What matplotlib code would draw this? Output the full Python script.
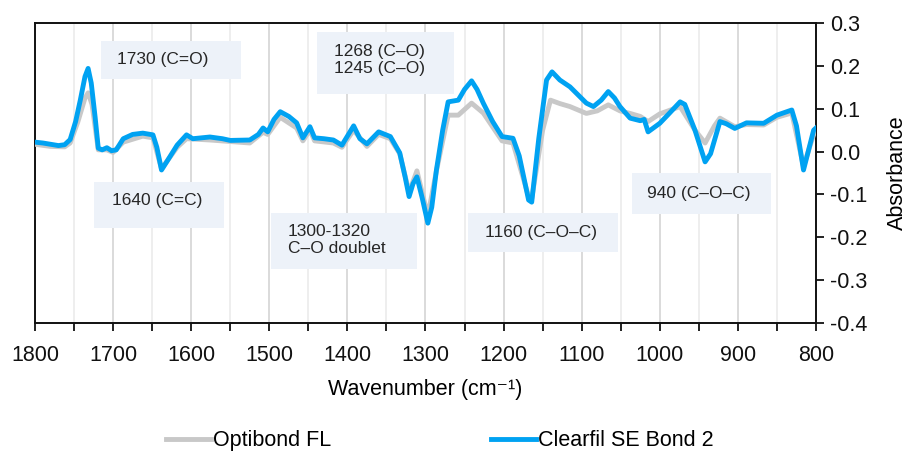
import matplotlib
matplotlib.use("Agg")
import matplotlib.pyplot as plt
from matplotlib.patches import Rectangle
from matplotlib.ticker import MultipleLocator, FormatStrFormatter

plt.rcParams['font.family'] = ['Liberation Sans', 'DejaVu Sans']
plt.rcParams['axes.unicode_minus'] = False

# Clearfil SE Bond 2 (blue)
wn_clearfil = [1800, 1790, 1780, 1770, 1762, 1755, 1748, 1742, 1736, 1732, 1728, 1723, 1719,
               1714, 1708, 1702, 1696, 1687, 1675, 1662, 1649, 1644, 1638, 1630, 1618, 1606,
               1598, 1576, 1560, 1550, 1525, 1514, 1508, 1502, 1494, 1486, 1475, 1465, 1457,
               1448, 1442, 1430, 1418, 1407, 1392, 1384, 1375, 1360, 1345, 1333, 1326, 1321,
               1316, 1311, 1304, 1297, 1292, 1286, 1278, 1271, 1258, 1250, 1241, 1234, 1226,
               1214, 1202, 1188, 1180, 1168, 1164, 1155, 1145, 1138, 1128, 1115, 1094, 1085,
               1075, 1066, 1058, 1051, 1038, 1025, 1020, 1015, 1000, 990, 974, 968, 955, 942,
               935, 923, 915, 904, 889, 867, 850, 831, 825, 816, 810, 803, 800]
abs_clearfil = [0.022, 0.020, 0.017, 0.014, 0.016, 0.028, 0.070, 0.120, 0.175, 0.194, 0.160,
                0.080, 0.008, 0.004, 0.009, 0.002, 0.004, 0.030, 0.040, 0.043, 0.039, 0.010,
                -0.043, -0.020, 0.015, 0.039, 0.030, 0.034, 0.030, 0.026, 0.027, 0.040, 0.055,
                0.046, 0.075, 0.093, 0.082, 0.067, 0.032, 0.058, 0.032, 0.030, 0.027, 0.015,
                0.060, 0.030, 0.018, 0.046, 0.035, -0.003, -0.060, -0.105, -0.075, -0.059,
                -0.110, -0.167, -0.130, -0.043, 0.050, 0.116, 0.120, 0.145, 0.165, 0.145,
                0.113, 0.070, 0.035, 0.031, -0.010, -0.113, -0.118, 0.030, 0.167, 0.186,
                0.167, 0.151, 0.113, 0.105, 0.120, 0.140, 0.125, 0.105, 0.078, 0.072, 0.075,
                0.046, 0.066, 0.085, 0.116, 0.110, 0.050, -0.024, -0.005, 0.070, 0.065, 0.054,
                0.067, 0.066, 0.085, 0.097, 0.060, -0.043, 0.000, 0.050, 0.055]

# Optibond FL (gray)
wn_optibond = [1800, 1780, 1762, 1755, 1745, 1736, 1732, 1727, 1719, 1708, 1700, 1687, 1662,
               1649, 1638, 1618, 1606, 1576, 1525, 1508, 1502, 1486, 1465, 1457, 1448, 1442,
               1418, 1407, 1392, 1375, 1360, 1345, 1333, 1321, 1311, 1297, 1286, 1271, 1258,
               1241, 1226, 1202, 1188, 1168, 1164, 1150, 1140, 1128, 1115, 1094, 1080, 1066,
               1051, 1038, 1025, 1015, 1000, 974, 955, 942, 930, 923, 904, 889, 867, 850, 831,
               816, 803, 800]
abs_optibond = [0.017, 0.012, 0.011, 0.020, 0.070, 0.125, 0.137, 0.110, 0.004, 0.004, -0.002,
                0.022, 0.036, 0.032, -0.040, 0.010, 0.030, 0.027, 0.020, 0.045, 0.040, 0.080,
                0.055, 0.025, 0.050, 0.025, 0.020, 0.010, 0.050, 0.012, 0.040, 0.030, -0.005,
                -0.095, -0.045, -0.150, -0.045, 0.085, 0.085, 0.113, 0.090, 0.025, 0.020,
                -0.105, -0.110, 0.050, 0.120, 0.112, 0.105, 0.089, 0.095, 0.109, 0.095, 0.089,
                0.082, 0.070, 0.088, 0.105, 0.050, 0.020, 0.060, 0.078, 0.058, 0.063, 0.062,
                0.080, 0.090, -0.035, 0.040, 0.048]

# annotation labels: text, box (x0, x1, y0, y1), text anchor (x, y)
notes = ["1730 (C=O)", "1640 (C=C)", "1300-1320\nC\u2013O doublet",
         "1268 (C\u2013O)\n1245 (C\u2013O)", "1160 (C\u2013O\u2013C)", "940 (C\u2013O\u2013C)"]
note_boxes = [(1715, 1536, 0.169, 0.258), (1724, 1558, -0.178, -0.071),
              (1498, 1311, -0.274, -0.143), (1439, 1263, 0.134, 0.279),
              (1246, 1053, -0.234, -0.143), (1036, 858, -0.146, -0.050)]
note_xy = [(1695, 0.214), (1701, -0.113), (1476, -0.206), (1417, 0.214),
           (1224, -0.188), (1016, -0.097)]

fig = plt.figure(figsize=(9.07, 4.55), dpi=100)
ax = fig.add_axes([35 / 907, 1 - 323 / 455, (816 - 35) / 907, 300 / 455])

for (x0, x1, y0, y1) in note_boxes:
    ax.add_patch(Rectangle((min(x0, x1), y0), abs(x1 - x0), y1 - y0,
                           facecolor='#edf2f9', edgecolor='none', zorder=1))
for txt, (tx, ty) in zip(notes, note_xy):
    ax.text(tx, ty, txt, ha='left', va='center', fontsize=12.5, color='#262626', zorder=2)

ax.plot(wn_optibond, abs_optibond, color='#c8c8c8', lw=3.5, zorder=3, label='Optibond FL')
ax.plot(wn_clearfil, abs_clearfil, color='#00a2f2', lw=3.5, zorder=4, label='Clearfil SE Bond 2')

ax.set_xlim(1800, 800)
ax.set_ylim(-0.4, 0.3)
ax.xaxis.set_major_locator(MultipleLocator(100))
ax.xaxis.set_minor_locator(MultipleLocator(50))
ax.yaxis.set_major_locator(MultipleLocator(0.1))
ax.yaxis.set_major_formatter(FormatStrFormatter('%.1f'))
ax.yaxis.tick_right()
ax.yaxis.set_label_position('right')
ax.grid(True, which='major', axis='x', color='#d4d4d4', lw=1.2, zorder=0)
ax.grid(True, which='minor', axis='x', color='#ebebeb', lw=1.2, zorder=0)
ax.set_axisbelow(True)
ax.tick_params(axis='both', which='both', direction='out', length=6, width=1.3,
               labelsize=15.5, colors='#111111')
ax.tick_params(axis='x', which='major', pad=10)
ax.tick_params(axis='y', pad=4)
for s in ax.spines.values():
    s.set_linewidth(1.4)
    s.set_color('#111111')

ax.set_xlabel('Wavenumber (cm\u207b\u00b9)', fontsize=15.5, labelpad=9)
ax.set_ylabel('Absorbance', fontsize=15.5, labelpad=14)

fig.legend(loc='center', bbox_to_anchor=(0.485, 0.031), ncol=2, frameon=False, fontsize=15.5,
           handlelength=2.1, handletextpad=0.1, columnspacing=7.4)

fig.savefig('out.png', dpi=100)
